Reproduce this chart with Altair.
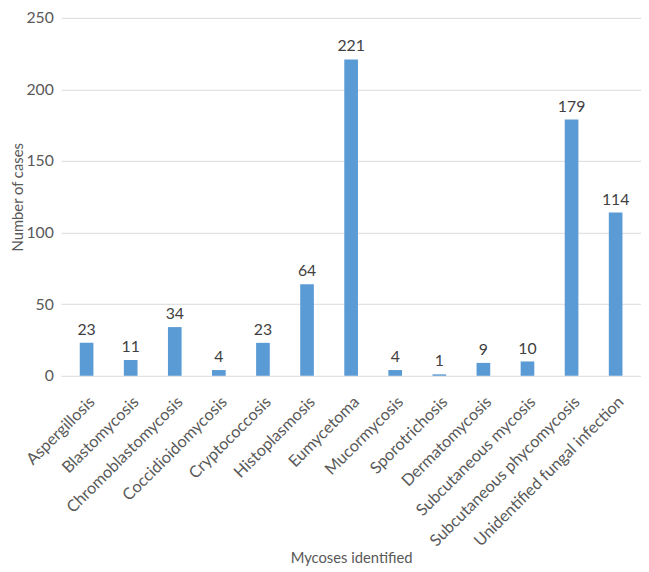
import altair as alt
import pandas as pd

categories = ["Aspergillosis", "Blastomycosis", "Chromoblastomycosis", "Coccidioidomycosis",
              "Cryptococcosis", "Histoplasmosis", "Eumycetoma", "Mucormycosis", "Sporotrichosis",
              "Dermatomycosis", "Subcutaneous mycosis", "Subcutaneous phycomycosis",
              "Unidentified fungal infection"]
cases = [23, 11, 34, 4, 23, 64, 221, 4, 1, 9, 10, 179, 114]

df = pd.DataFrame({"Mycosis": categories, "Cases": cases})

FONT = "Lato"
GREY = "#595959"

base = alt.Chart(df).encode(
    x=alt.X("Mycosis:N", sort=categories, title="Mycoses identified",
            scale=alt.Scale(paddingInner=0.69, paddingOuter=0.42),
            axis=alt.Axis(labelAngle=-45, labelFontSize=16.5, labelColor=GREY, labelLimit=300,
                          labelFont=FONT, titleFont=FONT, titleFontSize=15,
                          titleFontWeight="normal", titleColor=GREY,
                          domain=False, ticks=False, labelPadding=18, titlePadding=1)),
    y=alt.Y("Cases:Q", title="Number of cases",
            scale=alt.Scale(domain=[0, 250]),
            axis=alt.Axis(values=[0, 50, 100, 150, 200, 250], labelFontSize=16,
                          labelColor=GREY, labelFont=FONT, titleFont=FONT,
                          titleFontSize=15, titleFontWeight="normal", titleColor=GREY,
                          domain=False, ticks=False, gridColor="#D9D9D9", labelPadding=8,
                          titlePadding=0)),
)

bars = base.mark_bar(color="#5B9BD5")
labels = base.mark_text(dy=-13, fontSize=16, color="#404040", font=FONT).encode(text="Cases:Q")

chart = (bars + labels).properties(
    width=588, height=363,
    autosize=alt.AutoSizeParams(type="none"),
    padding={"left": 54, "top": 6, "right": 0, "bottom": 194},
).configure_view(stroke=None)

chart.save("out.html", embed_options={"renderer": "svg", "actions": False})
